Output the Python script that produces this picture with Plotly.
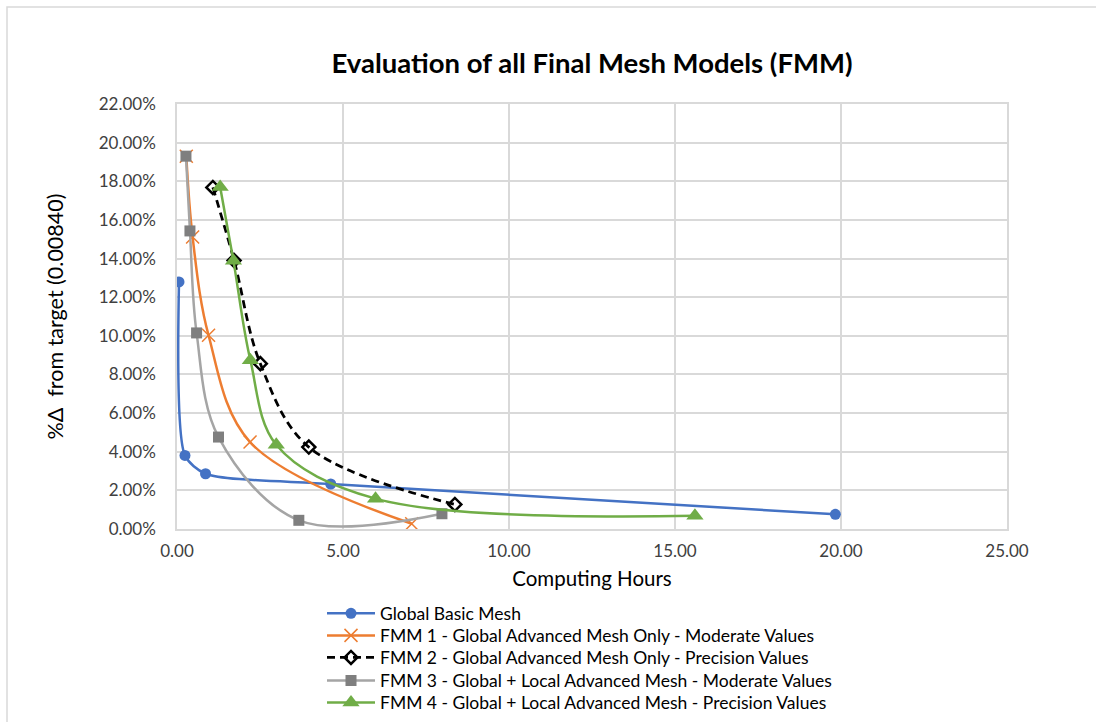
import plotly.graph_objects as go

# Computing hours (x) and % deviation from target (y, as fractions)
basic_hours = [0.06, 0.24, 0.86, 4.63, 19.83]
basic_delta = [0.1279, 0.0381, 0.0286, 0.0233, 0.0076]

fmm1_hours = [0.28, 0.47, 0.95, 2.20, 7.07]
fmm1_delta = [0.1930, 0.1512, 0.1003, 0.0450, 0.0027]

fmm2_hours = [1.08, 1.72, 2.51, 3.97, 8.37]
fmm2_delta = [0.1768, 0.1390, 0.0856, 0.0424, 0.0127]

fmm3_hours = [0.27, 0.39, 0.59, 1.25, 3.67, 7.98]
fmm3_delta = [0.1930, 0.1543, 0.1015, 0.0476, 0.0045, 0.0079]

fmm4_hours = [1.30, 1.70, 2.21, 2.99, 5.98, 15.60]
fmm4_delta = [0.1770, 0.1388, 0.0874, 0.0436, 0.0157, 0.0068]

series_names = [
    "Global Basic Mesh",
    "FMM 1 - Global Advanced Mesh Only - Moderate Values",
    "FMM 2 - Global Advanced Mesh Only - Precision Values",
    "FMM 3 - Global + Local Advanced Mesh - Moderate Values",
    "FMM 4 - Global + Local Advanced Mesh - Precision Values",
]

x_ticks = [0, 5, 10, 15, 20, 25]
y_ticks = [i / 100 for i in range(0, 23, 2)]

FONT = "Lato, Calibri, 'Open Sans', sans-serif"
GRID = "#d9d9d9"

# Plot-area geometry in pixels (used to place legend rows and the frame)
PLOT_LEFT, PLOT_RIGHT, PLOT_TOP, PLOT_BOTTOM = 177, 1007, 104, 528.6
PLOT_H = PLOT_BOTTOM - PLOT_TOP
PLOT_W = PLOT_RIGHT - PLOT_LEFT
LEGEND_LEFT = 322
LEGEND_ROWS = [613, 635, 657, 680, 702]

fig = go.Figure()

fig.add_trace(go.Scatter(
    x=basic_hours, y=basic_delta, name=series_names[0], mode="lines+markers",
    line=dict(color="#4472C4", width=2.5, shape="spline", smoothing=0.7),
    marker=dict(symbol="circle", size=11, color="#4472C4"),
    legend="legend",
))
fig.add_trace(go.Scatter(
    x=fmm1_hours, y=fmm1_delta, name=series_names[1], mode="lines+markers",
    line=dict(color="#ED7D31", width=2.5, shape="spline", smoothing=1.0),
    marker=dict(symbol="x-thin-open", size=13, color="#ED7D31",
                line=dict(color="#ED7D31", width=1.5)),
    legend="legend2",
))
fig.add_trace(go.Scatter(
    x=fmm2_hours, y=fmm2_delta, name=series_names[2], mode="lines+markers",
    line=dict(color="#000000", width=2.75, dash="8px,5px", shape="spline", smoothing=1.0),
    marker=dict(symbol="diamond-open", size=10, color="#000000",
                line=dict(color="#000000", width=2.5)),
    legend="legend3",
))
fig.add_trace(go.Scatter(
    x=fmm3_hours, y=fmm3_delta, name=series_names[3], mode="lines+markers",
    line=dict(color="#A5A5A5", width=2.5, shape="spline", smoothing=1.0),
    marker=dict(symbol="square", size=11, color="#7F7F7F"),
    legend="legend4",
))
fig.add_trace(go.Scatter(
    x=fmm4_hours, y=fmm4_delta, name=series_names[4], mode="lines+markers",
    line=dict(color="#70AD47", width=2.5, shape="spline", smoothing=1.0),
    marker=dict(symbol="triangle-up", size=15, color="#70AD47"),
    legend="legend5",
))

legend_layouts = {}
for i, row_y in enumerate(LEGEND_ROWS):
    key = "legend" if i == 0 else f"legend{i + 1}"
    legend_layouts[key] = dict(
        x=(LEGEND_LEFT - PLOT_LEFT) / PLOT_W, xanchor="left",
        y=(PLOT_BOTTOM - row_y) / PLOT_H, yanchor="middle",
        font=dict(family=FONT, size=17.5, color="#000000"),
        bgcolor="rgba(0,0,0,0)", itemwidth=48,
    )

fig.update_layout(
    width=1096, height=722,
    margin=dict(l=PLOT_LEFT, r=1096 - PLOT_RIGHT, t=PLOT_TOP, b=722 - PLOT_BOTTOM,
                autoexpand=False),
    paper_bgcolor="white", plot_bgcolor="white",
    font=dict(family=FONT, size=17, color="#404040"),
    title=dict(
        text="<b>Evaluation of all Final Mesh Models (FMM)</b>",
        x=(PLOT_LEFT + PLOT_RIGHT) / 2 / 1096, xanchor="center",
        y=1 - 63 / 722, yanchor="middle",
        font=dict(family=FONT, size=27.5, color="#000000"),
    ),
    xaxis=dict(
        range=[0, 25], tickvals=x_ticks, tickformat=".2f",
        showgrid=True, gridcolor=GRID, gridwidth=1.5,
        showline=True, linecolor=GRID, linewidth=1.5, mirror=True,
        zeroline=False, ticks="", ticklabelstandoff=6, automargin=False,
        tickfont=dict(family=FONT, size=17, color="#404040"),
        title=dict(text="Computing Hours", standoff=11,
                   font=dict(family=FONT, size=20.5, color="#000000")),
    ),
    yaxis=dict(
        range=[0, 0.22], tickvals=y_ticks, tickformat=".2%",
        showgrid=True, gridcolor=GRID, gridwidth=1.5,
        showline=True, linecolor=GRID, linewidth=1.5, mirror=True,
        zeroline=False, ticks="", ticklabelstandoff=16, automargin=False,
        tickfont=dict(family=FONT, size=17, color="#404040"),
        title=dict(text="%Δ  from target (0.00840)", standoff=29,
                   font=dict(family=FONT, size=21.5, color="#000000")),
    ),
    showlegend=True,
    **legend_layouts,
)

# Light chart-area frame around the whole figure
fig.add_shape(
    type="rect", xref="paper", yref="paper",
    x0=(7 - PLOT_LEFT) / PLOT_W, x1=(1110 - PLOT_LEFT) / PLOT_W,
    y0=(PLOT_BOTTOM - 740) / PLOT_H, y1=(PLOT_BOTTOM - 7) / PLOT_H,
    line=dict(color=GRID, width=1.5), fillcolor="rgba(0,0,0,0)", layer="below",
)

fig.write_html("out.html")
